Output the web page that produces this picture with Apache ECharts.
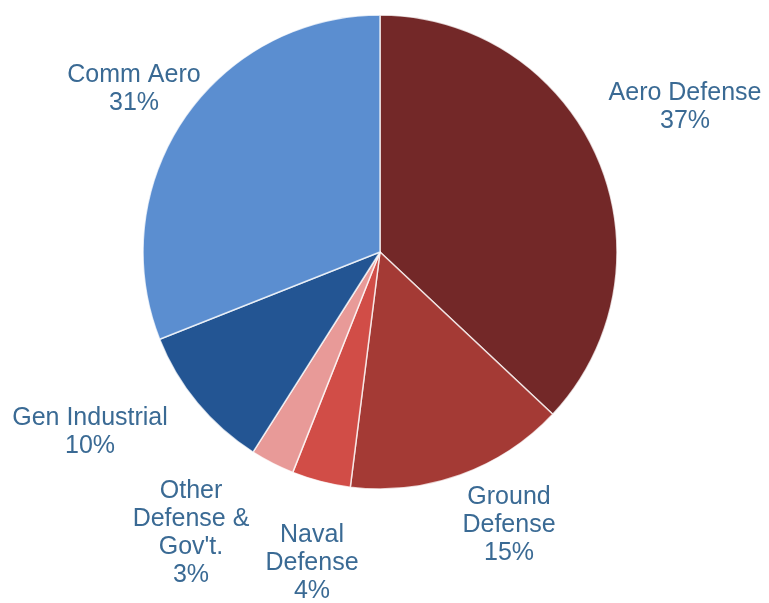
<!DOCTYPE html>
<html>
<head>
<meta charset="utf-8">
<script src="https://cdn.jsdelivr.net/npm/echarts@6/dist/echarts.min.js"></script>
<style>
  html, body { margin: 0; padding: 0; background: #ffffff; }
  #chart { width: 769px; height: 603px; }
</style>
</head>
<body>
<div id="chart"></div>
<script>
// Revenue mix by market segment (percent of total)
const segments = ['Aero Defense', 'Ground Defense', 'Naval Defense', 'Other Defense & Gov\'t.', 'Gen Industrial', 'Comm Aero'];
const shares = [37, 15, 4, 3, 10, 31];
// How each segment name is wrapped in its label
const labelLines = ['Aero Defense', 'Ground\nDefense', 'Naval\nDefense', 'Other\nDefense &\nGov\'t.', 'Gen Industrial', 'Comm Aero'];

const sliceColors = ['#732828', '#A43A35', '#D14D47', '#E89A98', '#235593', '#5B8ED0'];
// Label block centres, in pixels
const labelAnchors = [[685, 107], [509, 525], [312, 563], [191, 533], [90, 432], [134, 89]];

const chart = echarts.init(document.getElementById('chart'), null, { renderer: 'canvas' });

chart.setOption({
  backgroundColor: '#ffffff',
  animation: false,
  series: [{
    type: 'pie',
    center: [380, 252],
    radius: [0, 237],
    startAngle: 90,
    clockwise: true,
    avoidLabelOverlap: false,
    data: segments.map((name, i) => ({
      name: name,
      value: shares[i],
      itemStyle: { color: sliceColors[i] }
    })),
    itemStyle: {
      borderColor: 'rgba(255,255,255,0.75)',
      borderWidth: 1.5
    },
    label: {
      show: true,
      position: 'outside',
      formatter: p => labelLines[p.dataIndex] + '\n' + p.value + '%',
      color: '#3A6A94',
      fontFamily: 'Liberation Sans, Arial, sans-serif',
      fontSize: 25,
      lineHeight: 28,
      align: 'center'
    },
    labelLine: { show: false },
    labelLayout: params => ({
      x: labelAnchors[params.dataIndex][0],
      y: labelAnchors[params.dataIndex][1],
      align: 'center',
      verticalAlign: 'middle'
    })
  }]
});
</script>
</body>
</html>
